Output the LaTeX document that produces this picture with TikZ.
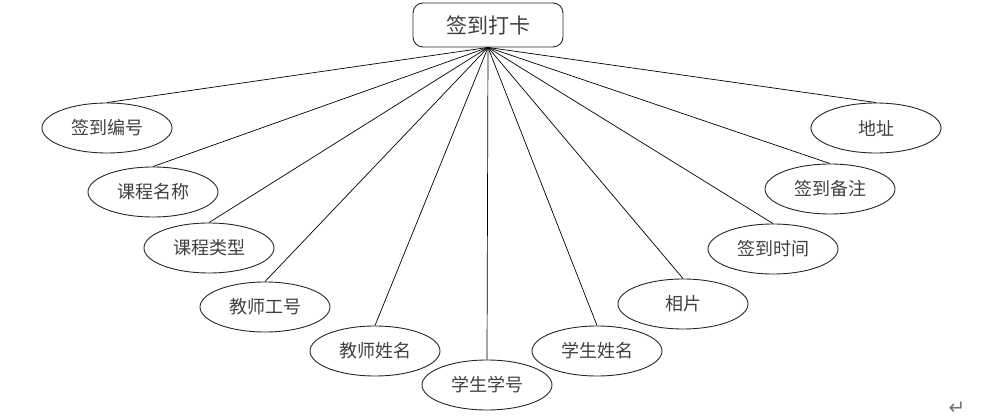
\documentclass[tikz,border=0pt]{standalone}
\usepackage{fontspec}
\setmainfont{Noto Sans CJK SC}
\newfontfamily\symfont{DejaVu Sans}
\usetikzlibrary{shapes.geometric}
\begin{document}
\begin{tikzpicture}[x=1pt,y=-1pt,
  attr/.style={draw=black!85, line width=0.9pt, ellipse, minimum width=130pt, minimum height=50pt, inner sep=0pt, font=\fontsize{18}{18}\selectfont, text=black!75},
  entity/.style={draw=black!85, line width=0.9pt, rounded corners=10pt, minimum width=150pt, minimum height=44pt, inner sep=0pt, font=\fontsize{21}{21}\selectfont, text=black!75},
  link/.style={draw=black, line width=0.7pt}]
\useasboundingbox (0,0) rectangle (986,419);
\node[entity] (top) at (488,25) {签到打卡};
\coordinate (hub) at (top.south);
\node[attr] (a1) at (107,128) {签到编号};
\node[attr] (a2) at (153,192) {课程名称};
\node[attr] (a3) at (209,248) {课程类型};
\node[attr] (a4) at (265,307) {教师工号};
\node[attr] (a5) at (375,351) {教师姓名};
\node[attr] (a6) at (487,385) {学生学号};
\node[attr] (a7) at (597,351) {学生姓名};
\node[attr] (a8) at (683,304) {相片};
\node[attr] (a9) at (773,249) {签到时间};
\node[attr] (a10) at (830,189) {签到备注};
\node[attr] (a11) at (876,128) {地址};
\foreach \n in {a1,a2,a3,a4,a5,a6,a7,a8,a9,a10,a11}
  \draw[link] (hub) -- (\n.north);
\node[font=\symfont\fontsize{20}{20}\selectfont, text=black!55, inner sep=0pt] (ret) at (957,408) {↵};
\end{tikzpicture}
\end{document}
